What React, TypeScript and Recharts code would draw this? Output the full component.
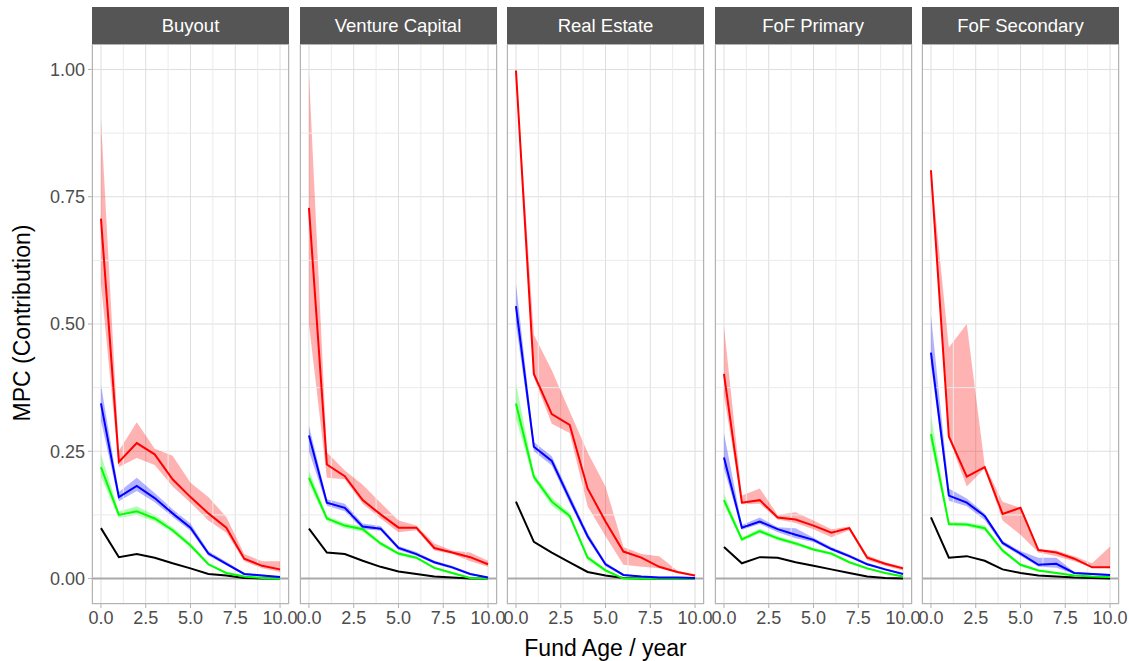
import React from "react";
import { ComposedChart, Line, Area, XAxis, YAxis, CartesianGrid, ReferenceLine } from "recharts";

const panels = ["Buyout", "Venture Capital", "Real Estate", "FoF Primary", "FoF Secondary"];
const ages = [0, 1, 2, 3, 4, 5, 6, 7, 8, 9, 10];
const xTicks = [0, 2.5, 5, 7.5, 10];
const xMinor = [1.25, 3.75, 6.25, 8.75];
const yTicks = [0, 0.25, 0.5, 0.75, 1];
const yMinor = [0.125, 0.375, 0.625, 0.875];

// Buyout
const buyoutRed = [0.707, 0.229, 0.266, 0.244, 0.195, 0.16, 0.128, 0.1, 0.039, 0.025, 0.018];
const buyoutRedLo = [0.58, 0.219, 0.237, 0.223, 0.181, 0.149, 0.114, 0.09, 0.034, 0.02, 0.013];
const buyoutRedHi = [0.903, 0.251, 0.307, 0.255, 0.241, 0.188, 0.16, 0.121, 0.048, 0.034, 0.034];
const buyoutBlue = [0.344, 0.16, 0.182, 0.158, 0.128, 0.1, 0.049, 0.029, 0.009, 0.006, 0.003];
const buyoutBlueLo = [0.31, 0.152, 0.172, 0.15, 0.121, 0.094, 0.045, 0.026, 0.007, 0.004, 0.002];
const buyoutBlueHi = [0.381, 0.17, 0.198, 0.168, 0.136, 0.108, 0.054, 0.033, 0.011, 0.008, 0.004];
const buyoutGreen = [0.219, 0.125, 0.132, 0.118, 0.095, 0.065, 0.028, 0.011, 0.004, 0.001, 0.0];
const buyoutGreenLo = [0.2, 0.119, 0.125, 0.112, 0.09, 0.061, 0.025, 0.009, 0.003, 0.0, 0.0];
const buyoutGreenHi = [0.244, 0.132, 0.142, 0.125, 0.101, 0.07, 0.031, 0.013, 0.005, 0.002, 0.001];
const buyoutBlack = [0.099, 0.042, 0.048, 0.041, 0.03, 0.02, 0.009, 0.006, 0.001, 0.0, 0.0];

// Venture Capital
const ventureRed = [0.728, 0.224, 0.201, 0.154, 0.126, 0.1, 0.1, 0.06, 0.051, 0.042, 0.028];
const ventureRedLo = [0.5, 0.198, 0.195, 0.147, 0.118, 0.091, 0.095, 0.055, 0.048, 0.034, 0.023];
const ventureRedHi = [0.994, 0.248, 0.212, 0.184, 0.149, 0.114, 0.104, 0.069, 0.055, 0.051, 0.035];
const ventureBlue = [0.281, 0.149, 0.139, 0.102, 0.098, 0.06, 0.048, 0.032, 0.022, 0.009, 0.002];
const ventureBlueLo = [0.25, 0.143, 0.132, 0.097, 0.094, 0.056, 0.045, 0.029, 0.019, 0.007, 0.001];
const ventureBlueHi = [0.3, 0.156, 0.147, 0.108, 0.103, 0.064, 0.052, 0.035, 0.025, 0.011, 0.003];
const ventureGreen = [0.198, 0.118, 0.104, 0.097, 0.069, 0.049, 0.041, 0.021, 0.011, 0.001, 0.0];
const ventureGreenLo = [0.185, 0.113, 0.099, 0.092, 0.065, 0.046, 0.038, 0.019, 0.009, 0.0, 0.0];
const ventureGreenHi = [0.212, 0.123, 0.109, 0.102, 0.073, 0.052, 0.044, 0.023, 0.013, 0.002, 0.001];
const ventureBlack = [0.098, 0.051, 0.048, 0.035, 0.023, 0.014, 0.009, 0.004, 0.002, 0.0, 0.0];

// Real Estate
const realRed = [0.998, 0.402, 0.323, 0.302, 0.177, 0.112, 0.053, 0.041, 0.023, 0.013, 0.006];
const realRedLo = [0.99, 0.395, 0.304, 0.286, 0.142, 0.083, 0.027, 0.023, 0.02, 0.011, 0.004];
const realRedHi = [1.0, 0.479, 0.409, 0.328, 0.248, 0.181, 0.062, 0.048, 0.044, 0.016, 0.006];
const realBlue = [0.535, 0.259, 0.231, 0.156, 0.083, 0.028, 0.007, 0.004, 0.002, 0.002, 0.001];
const realBlueLo = [0.5, 0.25, 0.222, 0.148, 0.077, 0.024, 0.005, 0.003, 0.001, 0.001, 0.0];
const realBlueHi = [0.58, 0.268, 0.24, 0.165, 0.09, 0.032, 0.009, 0.005, 0.003, 0.003, 0.002];
const realGreen = [0.344, 0.2, 0.151, 0.123, 0.041, 0.016, 0.0, 0.0, 0.0, 0.0, 0.0];
const realGreenLo = [0.314, 0.193, 0.143, 0.117, 0.036, 0.013, 0.0, 0.0, 0.0, 0.0, 0.0];
const realGreenHi = [0.384, 0.207, 0.159, 0.129, 0.046, 0.019, 0.001, 0.0, 0.0, 0.0, 0.0];
const realBlack = [0.151, 0.072, 0.051, 0.032, 0.013, 0.006, 0.001, 0.0, 0.0, 0.0, 0.0];

// FoF Primary
const primRed = [0.402, 0.149, 0.154, 0.12, 0.116, 0.104, 0.09, 0.099, 0.041, 0.029, 0.02];
const primRedLo = [0.36, 0.146, 0.147, 0.116, 0.109, 0.097, 0.081, 0.095, 0.036, 0.025, 0.016];
const primRedHi = [0.496, 0.163, 0.177, 0.125, 0.13, 0.114, 0.097, 0.102, 0.046, 0.032, 0.023];
const primBlue = [0.238, 0.1, 0.112, 0.097, 0.086, 0.076, 0.058, 0.044, 0.028, 0.018, 0.009];
const primBlueLo = [0.216, 0.096, 0.107, 0.091, 0.079, 0.072, 0.055, 0.041, 0.026, 0.016, 0.008];
const primBlueHi = [0.286, 0.105, 0.12, 0.101, 0.099, 0.08, 0.062, 0.047, 0.031, 0.02, 0.01];
const primGreen = [0.154, 0.077, 0.093, 0.079, 0.069, 0.057, 0.049, 0.032, 0.02, 0.011, 0.004];
const primGreenLo = [0.145, 0.073, 0.089, 0.075, 0.065, 0.054, 0.046, 0.03, 0.018, 0.01, 0.003];
const primGreenHi = [0.167, 0.081, 0.098, 0.083, 0.073, 0.06, 0.052, 0.034, 0.022, 0.012, 0.005];
const primBlack = [0.062, 0.03, 0.042, 0.041, 0.032, 0.025, 0.018, 0.011, 0.004, 0.001, 0.0];

// FoF Secondary
const secRed = [0.802, 0.279, 0.2, 0.219, 0.127, 0.139, 0.056, 0.051, 0.039, 0.022, 0.022];
const secRedLo = [0.8, 0.275, 0.181, 0.216, 0.114, 0.086, 0.051, 0.044, 0.034, 0.021, 0.021];
const secRedHi = [0.805, 0.454, 0.5, 0.223, 0.151, 0.139, 0.058, 0.055, 0.044, 0.03, 0.063];
const secBlue = [0.444, 0.163, 0.149, 0.123, 0.07, 0.049, 0.027, 0.029, 0.011, 0.009, 0.007];
const secBlueLo = [0.42, 0.153, 0.142, 0.115, 0.066, 0.045, 0.023, 0.021, 0.009, 0.007, 0.005];
const secBlueHi = [0.517, 0.177, 0.157, 0.128, 0.074, 0.054, 0.041, 0.041, 0.013, 0.011, 0.009];
const secGreen = [0.284, 0.107, 0.106, 0.099, 0.055, 0.027, 0.016, 0.011, 0.006, 0.004, 0.003];
const secGreenLo = [0.265, 0.103, 0.102, 0.094, 0.051, 0.024, 0.014, 0.009, 0.005, 0.003, 0.002];
const secGreenHi = [0.321, 0.111, 0.11, 0.104, 0.059, 0.03, 0.018, 0.013, 0.007, 0.005, 0.004];
const secBlack = [0.12, 0.041, 0.044, 0.035, 0.018, 0.011, 0.006, 0.004, 0.002, 0.001, 0.0];

const series = [
  [buyoutRed, buyoutRedLo, buyoutRedHi, buyoutBlue, buyoutBlueLo, buyoutBlueHi, buyoutGreen, buyoutGreenLo, buyoutGreenHi, buyoutBlack],
  [ventureRed, ventureRedLo, ventureRedHi, ventureBlue, ventureBlueLo, ventureBlueHi, ventureGreen, ventureGreenLo, ventureGreenHi, ventureBlack],
  [realRed, realRedLo, realRedHi, realBlue, realBlueLo, realBlueHi, realGreen, realGreenLo, realGreenHi, realBlack],
  [primRed, primRedLo, primRedHi, primBlue, primBlueLo, primBlueHi, primGreen, primGreenLo, primGreenHi, primBlack],
  [secRed, secRedLo, secRedHi, secBlue, secBlueLo, secBlueHi, secGreen, secGreenLo, secGreenHi, secBlack],
];

function buildRows(s: number[][]) {
  const [r, rl, rh, b, bl, bh, g, gl, gh, k] = s;
  return ages.map((a, i) => ({
    age: a,
    red: r[i],
    redBand: [rl[i], rh[i]],
    blue: b[i],
    blueBand: [bl[i], bh[i]],
    green: g[i],
    greenBand: [gl[i], gh[i]],
    black: k[i],
  }));
}

const FONT = "'Liberation Sans', Arial, Helvetica, sans-serif";
const PANEL_LEFT0 = 92;
const PANEL_STEP = 207.5;
const PANEL_W = 197;
const PANEL_TOP = 44;
const PANEL_H = 560;
const STRIP_TOP = 7;
const Y_AXIS_W = 60;
const X_AXIS_H = 40;
const SIDE = 22;

function Panel({ idx }: { idx: number }) {
  const showY = idx === 0;
  const yw = showY ? Y_AXIS_W : 0;
  const left = PANEL_LEFT0 + idx * PANEL_STEP;
  const rows = buildRows(series[idx]);
  return (
    <>
      <div
        style={{
          position: "absolute",
          left,
          top: STRIP_TOP,
          width: PANEL_W,
          height: PANEL_TOP - STRIP_TOP,
          background: "#555555",
          color: "#ffffff",
          fontSize: 18.5,
          lineHeight: `${PANEL_TOP - STRIP_TOP + 1}px`,
          textAlign: "center",
        }}
      >
        {panels[idx]}
      </div>
      <div style={{ position: "absolute", left: left - yw - SIDE, top: PANEL_TOP }}>
        <ComposedChart
          width={PANEL_W + yw + 2 * SIDE}
          height={PANEL_H + X_AXIS_H}
          data={rows}
          margin={{ top: 0, right: SIDE, bottom: 0, left: SIDE }}
        >
          <CartesianGrid stroke="#dedede" strokeWidth={1} />
          {xMinor.map((v) => (
            <ReferenceLine key={"xm" + v} x={v} stroke="#ebebeb" strokeWidth={1} />
          ))}
          {yMinor.map((v) => (
            <ReferenceLine key={"ym" + v} y={v} stroke="#ebebeb" strokeWidth={1} />
          ))}
          <XAxis
            dataKey="age"
            type="number"
            domain={[-0.5, 10.5]}
            ticks={xTicks}
            tickFormatter={(v: number) => v.toFixed(1)}
            height={X_AXIS_H}
            axisLine={false}
            tickLine={{ stroke: "#b3b3b3" }}
            tickSize={4}
            tickMargin={3}
            tick={{ fill: "#4d4d4d", fontSize: 18 }}
            interval={0}
            allowDataOverflow
          />
          <YAxis
            type="number"
            domain={[-0.05, 1.05]}
            ticks={yTicks}
            tickFormatter={(v: number) => v.toFixed(2)}
            width={yw}
            hide={!showY}
            axisLine={false}
            tickLine={{ stroke: "#b3b3b3" }}
            tickSize={4}
            tickMargin={3}
            tick={{ fill: "#4d4d4d", fontSize: 18 }}
            interval={0}
            allowDataOverflow
          />
          <ReferenceLine y={0} stroke="#a9a9a9" strokeWidth={2} />
          <Area type="linear" dataKey="greenBand" stroke="none" fill="#00ff00" fillOpacity={0.3} isAnimationActive={false} />
          <Area type="linear" dataKey="blueBand" stroke="none" fill="#0000ff" fillOpacity={0.3} isAnimationActive={false} />
          <Area type="linear" dataKey="redBand" stroke="none" fill="#ff0000" fillOpacity={0.3} isAnimationActive={false} />
          <Line type="linear" dataKey="black" stroke="#000000" strokeWidth={2} dot={false} activeDot={false} isAnimationActive={false} />
          <Line type="linear" dataKey="green" stroke="#00ff00" strokeWidth={2} dot={false} activeDot={false} isAnimationActive={false} />
          <Line type="linear" dataKey="blue" stroke="#0000ff" strokeWidth={2} dot={false} activeDot={false} isAnimationActive={false} />
          <Line type="linear" dataKey="red" stroke="#ff0000" strokeWidth={2} dot={false} activeDot={false} isAnimationActive={false} />
        </ComposedChart>
      </div>
      <div
        style={{
          position: "absolute",
          left,
          top: PANEL_TOP,
          width: PANEL_W,
          height: PANEL_H,
          boxSizing: "border-box",
          border: "1.5px solid #b3b3b3",
          pointerEvents: "none",
        }}
      />
    </>
  );
}

export default function App() {
  return (
    <div
      style={{
        position: "absolute",
        left: 0,
        top: 0,
        width: 1129,
        height: 661,
        background: "#ffffff",
        fontFamily: FONT,
        overflow: "hidden",
      }}
    >
      {panels.map((_, i) => (
        <Panel key={i} idx={i} />
      ))}
      <div
        style={{
          position: "absolute",
          left: 22 - 150,
          top: 323 - 15,
          width: 300,
          height: 30,
          lineHeight: "30px",
          textAlign: "center",
          fontSize: 23,
          color: "#000",
          transform: "rotate(-90deg)",
        }}
      >
        MPC (Contribution)
      </div>
      <div
        style={{
          position: "absolute",
          left: PANEL_LEFT0,
          top: 633,
          width: 4 * PANEL_STEP + PANEL_W,
          height: 30,
          lineHeight: "30px",
          textAlign: "center",
          fontSize: 23,
          color: "#000",
        }}
      >
        Fund Age / year
      </div>
    </div>
  );
}
